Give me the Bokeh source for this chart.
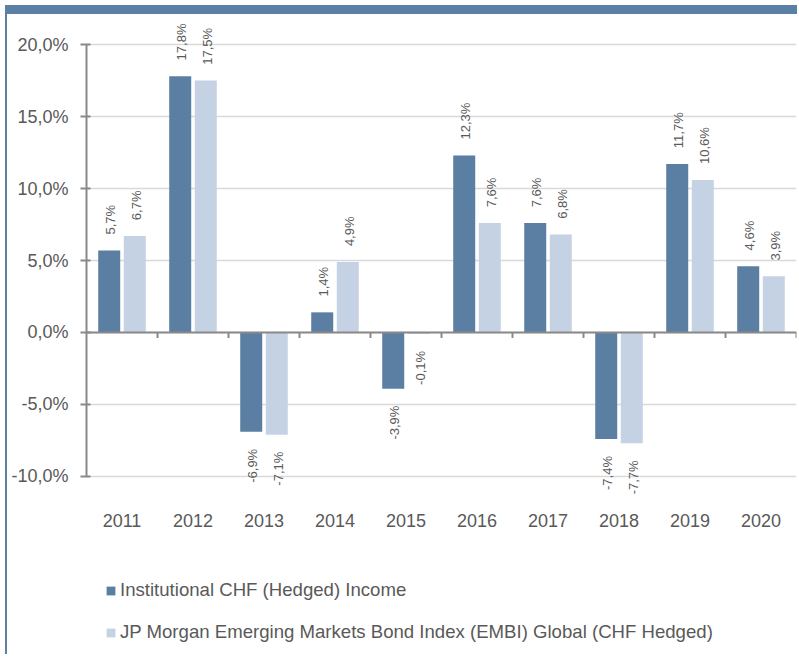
from bokeh.plotting import figure
from bokeh.models import (Range1d, FactorRange, Span, Legend, LegendItem,
                          CustomJSTickFormatter, ColumnDataSource, FixedTicker)
from bokeh.transform import dodge
from bokeh.core.properties import value
from bokeh.embed import file_html
from bokeh.resources import INLINE

years = ["2011", "2012", "2013", "2014", "2015", "2016", "2017", "2018", "2019", "2020"]
fund = [5.7, 17.8, -6.9, 1.4, -3.9, 12.3, 7.6, -7.4, 11.7, 4.6]
index = [6.7, 17.5, -7.1, 4.9, -0.1, 7.6, 6.8, -7.7, 10.6, 3.9]
series_names = ["Institutional CHF (Hedged) Income",
                "JP Morgan Emerging Markets Bond Index (EMBI) Global (CHF Hedged)"]
y_ticks = [-10, -5, 0, 5, 10, 15, 20]

DARK = "#5b7fa3"
LIGHT = "#c4d2e4"
BORDER = "#5b80a6"
TXT = "#595959"
AXIS = "#898989"
FONT = "Liberation Sans"

p = figure(width=792, height=649, x_range=FactorRange(*years),
           y_range=Range1d(-22.99, 21.67), output_backend="svg",
           toolbar_location=None, min_border_left=79, min_border_right=3,
           min_border_top=6, min_border_bottom=0)
p.styles = {"margin-left": "5px", "margin-top": "5px",
            "border-top": "9px solid " + BORDER, "border-left": "2px solid " + BORDER}
p.outline_line_color = None
p.background_fill_color = "white"
p.border_fill_color = "white"

src = ColumnDataSource(dict(years=years, fund=fund, index=index))
r1 = p.vbar(x=dodge("years", -0.18, range=p.x_range), top="fund", width=0.31,
            source=src, color=DARK, line_color=None)
r2 = p.vbar(x=dodge("years", 0.18, range=p.x_range), top="index", width=0.31,
            source=src, color=LIGHT, line_color=None)

# zero axis line and category ticks
p.add_layout(Span(location=0, dimension="width", line_color=AXIS, line_width=2))
tick_src = ColumnDataSource(dict(years=years, y0=[0] * len(years), y1=[-0.38] * len(years)))
p.segment(x0=dodge("years", 0.5, range=p.x_range), x1=dodge("years", 0.5, range=p.x_range),
          y0="y0", y1="y1", source=tick_src, line_color=AXIS, line_width=2)

# category labels (below the plotting area)
cat_src = ColumnDataSource(dict(years=years, y=[-13.06] * len(years)))
p.text(x="years", y="y", text="years", source=cat_src, text_align="center",
       text_baseline="middle", text_font=value(FONT), text_font_size="18px",
       text_color=TXT)

# data labels
def fmt(v):
    return ("%.1f" % v).replace(".", ",") + "%"

for vals, off in ((fund, -0.18), (index, 0.18)):
    pos = dict(years=[], y=[], t=[])
    neg = dict(years=[], y=[], t=[])
    for yr, v in zip(years, vals):
        if v >= 0:
            pos["years"].append(yr); pos["y"].append(v + 1.1); pos["t"].append(fmt(v))
        else:
            neg["years"].append(yr); neg["y"].append(v - 1.18); neg["t"].append(fmt(v))
    p.text(x=dodge("years", off + 0.02, range=p.x_range), y="y", text="t",
           source=ColumnDataSource(pos), angle=1.5708, text_align="left",
           text_baseline="middle", text_font=value(FONT), text_font_size="13px",
           text_color=TXT)
    p.text(x=dodge("years", off + 0.02, range=p.x_range), y="y", text="t",
           source=ColumnDataSource(neg), angle=1.5708, text_align="right",
           text_baseline="middle", text_font=value(FONT), text_font_size="13px",
           text_color=TXT)

# axes
p.xaxis.visible = False
p.yaxis.bounds = (-10, 20)
p.yaxis.ticker = FixedTicker(ticks=y_ticks)
p.yaxis.formatter = CustomJSTickFormatter(code="return tick.toFixed(1).replace('.', ',') + '%';")
p.yaxis.axis_line_color = AXIS
p.yaxis.axis_line_width = 2
p.yaxis.major_tick_line_color = AXIS
p.yaxis.major_tick_line_width = 2
p.yaxis.major_tick_out = 6
p.yaxis.major_tick_in = 4
p.yaxis.minor_tick_line_color = None
p.yaxis.major_label_text_font = FONT
p.yaxis.major_label_text_font_size = "18px"
p.yaxis.major_label_text_color = TXT
p.yaxis.major_label_standoff = 12

p.xgrid.grid_line_color = None
p.ygrid.ticker = FixedTicker(ticks=y_ticks)
p.ygrid.grid_line_color = "#d9d9d9"
p.ygrid.grid_line_width = 1.5

legend = Legend(items=[LegendItem(label=series_names[0], renderers=[r1]),
                       LegendItem(label=series_names[1], renderers=[r2])],
                orientation="vertical", location=(19, 20),
                glyph_width=11, glyph_height=11, label_standoff=4,
                label_text_font=FONT, label_text_font_size="18.6px",
                label_text_color=TXT, label_height=21, spacing=20,
                border_line_color=None, background_fill_alpha=0,
                padding=0, margin=0)
p.add_layout(legend, "center")

open("out.html", "w").write(file_html(p, INLINE))
